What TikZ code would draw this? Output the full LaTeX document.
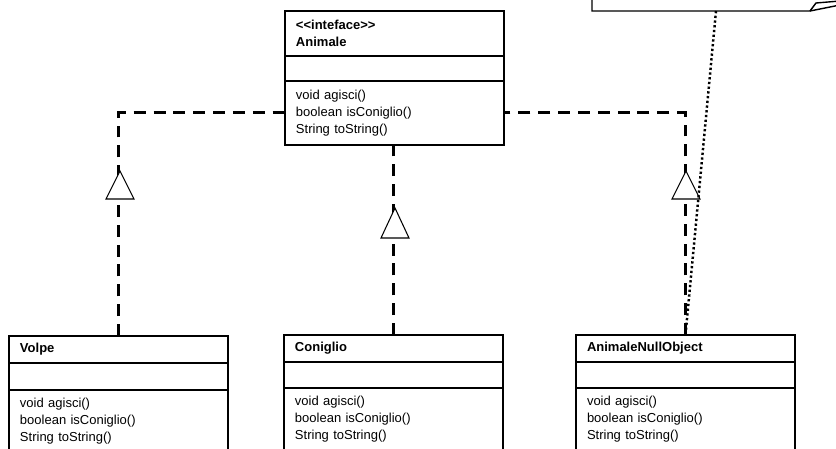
\documentclass[tikz,border=0pt]{standalone}
\usepackage{fontspec}
\setmainfont{Liberation Sans}
\usetikzlibrary{positioning}
\begin{document}
\begin{tikzpicture}[x=0.02cm,y=-0.02cm]
	\tikzstyle{part}=[draw=black,line width=0.8pt,outer sep=0pt,minimum width=4.38cm,text width=3.94cm,inner xsep=0.22cm,inner ysep=0pt,align=left,font=\fontsize{7.4}{9.64}\selectfont]
	\tikzstyle{head}=[part,font=\fontsize{7.4}{9.64}\selectfont\bfseries]
	\tikzstyle{realize}=[draw=black,line width=1.7pt,dash pattern=on 6.8pt off 4.5pt]
	\tikzstyle{tri}=[draw=black,line width=0.6pt,fill=white]
	\tikzstyle{link}=[draw=black,line width=1.4pt,dash pattern=on 1.3pt off 1.4pt]

	\clip (0,0) rectangle (836,449);

	\begin{scope}
		\node [head,minimum height=0.9cm,anchor=north west] (ani-h) at (285,11) {<\kern0pt<inteface>\kern0pt>\\Animale};
		\node [part,minimum height=0.5cm,below=0pt of ani-h] (ani-a) {};
		\node [part,minimum height=1.28cm,below=0pt of ani-a] (ani-m) {void agisci()\\boolean isConiglio()\\String toString()};

		\node [head,minimum height=0.54cm,anchor=north west] (vol-h) at (9,336) {Volpe};
		\node [part,minimum height=0.54cm,below=0pt of vol-h] (vol-a) {};
		\node [part,minimum height=1.54cm,below=0pt of vol-a] (vol-m) {void agisci()\\boolean isConiglio()\\String toString()\\\mbox{}};

		\node [head,minimum height=0.54cm,anchor=north west] (con-h) at (284,335) {Coniglio};
		\node [part,minimum height=0.52cm,below=0pt of con-h] (con-a) {};
		\node [part,minimum height=1.54cm,below=0pt of con-a] (con-m) {void agisci()\\boolean isConiglio()\\String toString()\\\mbox{}};

		\node [head,minimum height=0.54cm,anchor=north west] (nul-h) at (576,335) {AnimaleNullObject};
		\node [part,minimum height=0.52cm,below=0pt of nul-h] (nul-a) {};
		\node [part,minimum height=1.54cm,below=0pt of nul-a] (nul-m) {void agisci()\\boolean isConiglio()\\String toString()\\\mbox{}};

		\path[realize] (vol-h.north) |- (ani-m.west);
		\path[realize] (con-h.north) -- (con-h.north |- ani-m.south);
		\path[realize] (nul-h.north) |- (ani-m.east);

		\coordinate (t-vol) at (120,185);
		\coordinate (t-con) at (395,223);
		\coordinate (t-nul) at (686,185);
		\draw[tri,shift={(t-vol)}] (0,-14) -- (14,14) -- (-14,14) -- cycle;
		\draw[tri,shift={(t-con)}] (0,-15) -- (14,15) -- (-14,15) -- cycle;
		\draw[tri,shift={(t-nul)}] (0,-14) -- (14,14) -- (-14,14) -- cycle;

		\draw[line width=0.8pt] (592,-5) -- (592,11) -- (810,11) -- (816,3) -- (840,1);
		\draw[line width=0.8pt] (810,11) -- (840,5);
		\coordinate (note-b) at (716,11);
		\path[link] (note-b) -- (nul-h.north);
	\end{scope}
\end{tikzpicture}
\end{document}
